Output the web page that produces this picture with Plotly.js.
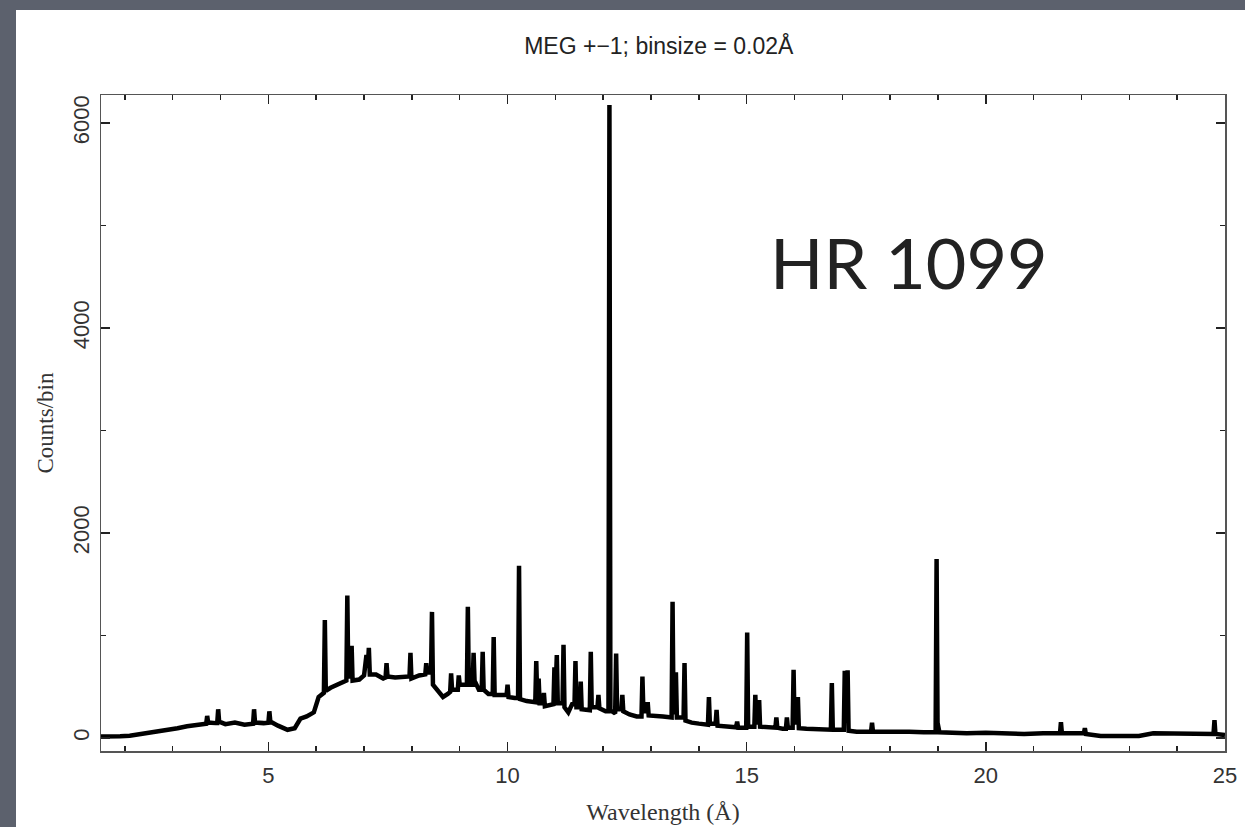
<!DOCTYPE html>
<html>
<head>
<meta charset="utf-8">
<script src="https://cdn.plot.ly/plotly-3.0.1.min.js"></script>
<style>
  html, body { margin:0; padding:0; width:1245px; height:827px; overflow:hidden; background:#5c616d; }
  #chart { position:absolute; left:16px; top:10px; width:1229px; height:817px; background:#ffffff; }
</style>
</head>
<body>
<div id="chart"></div>
<script>
// Spectrum: wavelength (Å) and counts per 0.02 Å bin
const wavelength = [
  1.50, 1.70, 1.90, 2.10, 2.30, 2.50, 2.70, 2.90, 3.10, 3.30, 3.50, 3.70, 3.72, 3.74, 3.90, 3.93, 3.95, 3.97,
  4.10, 4.30, 4.50, 4.68, 4.70, 4.72, 4.90, 5.00, 5.02, 5.04, 5.20, 5.40, 5.55, 5.67, 5.80, 5.95, 6.05,
  6.16, 6.18, 6.20, 6.30, 6.45, 6.63, 6.65, 6.67, 6.72, 6.74, 6.76, 6.90, 7.00, 7.05, 7.08, 7.10, 7.12,
  7.25, 7.40, 7.45, 7.47, 7.49, 7.65, 7.80, 7.95, 7.97, 7.99, 8.15, 8.28, 8.30, 8.32, 8.40, 8.42, 8.44,
  8.55, 8.65, 8.75, 8.80, 8.82, 8.84, 8.96, 8.98, 9.00, 9.15, 9.17, 9.19, 9.27, 9.29, 9.31, 9.40, 9.46,
  9.48, 9.50, 9.60, 9.69, 9.71, 9.73, 9.85, 9.98, 10.00, 10.02, 10.15, 10.22, 10.24, 10.26, 10.40,
  10.55, 10.58, 10.60, 10.62, 10.65, 10.67, 10.74, 10.76, 10.78, 10.90, 10.96, 10.98, 11.00, 11.03,
  11.05, 11.15, 11.17, 11.19, 11.27, 11.35, 11.40, 11.42, 11.44, 11.51, 11.53, 11.55, 11.65, 11.72,
  11.74, 11.76, 11.88, 11.90, 11.92, 12.05, 12.11, 12.13, 12.15, 12.22, 12.25, 12.27, 12.29, 12.38,
  12.40, 12.42, 12.55, 12.70, 12.80, 12.82, 12.84, 12.91, 12.93, 12.95, 13.10, 13.25, 13.43, 13.45,
  13.47, 13.50, 13.52, 13.54, 13.68, 13.70, 13.72, 13.85, 14.00, 14.10, 14.19, 14.21, 14.23, 14.35,
  14.37, 14.39, 14.55, 14.70, 14.78, 14.80, 14.82, 14.99, 15.01, 15.03, 15.16, 15.18, 15.20, 15.24,
  15.26, 15.28, 15.45, 15.60, 15.62, 15.64, 15.75, 15.82, 15.84, 15.86, 15.96, 15.98, 16.00, 16.05,
  16.07, 16.09, 16.25, 16.45, 16.65, 16.76, 16.78, 16.80, 16.95, 17.03, 17.05, 17.07, 17.09, 17.11,
  17.13, 17.30, 17.45, 17.60, 17.62, 17.64, 17.85, 18.10, 18.40, 18.70, 18.95, 18.97, 18.99, 19.03,
  19.30, 19.60, 20.00, 20.40, 20.80, 21.20, 21.55, 21.57, 21.59, 21.80, 22.05, 22.07, 22.09, 22.40,
  22.80, 23.20, 23.50, 23.90, 24.30, 24.60, 24.76, 24.78, 24.80, 25.00
];
const counts = [
  15, 12, 18, 22, 35, 50, 68, 80, 95, 115, 130, 140, 215, 150, 145, 145, 280, 160,
  135, 150, 130, 140, 280, 150, 145, 150, 260, 160, 120, 80, 95, 190, 210, 250, 400,
  440, 1150, 460, 490, 520, 560, 1390, 600, 600, 900, 560, 570, 610, 810, 700, 880, 620,
  620, 580, 590, 730, 600, 590, 600, 600, 830, 580, 610, 620, 730, 640, 640, 1230, 520,
  450, 400, 430, 450, 630, 470, 470, 610, 520, 520, 1280, 520, 520, 830, 560, 470, 470,
  840, 470, 430, 430, 985, 420, 420, 420, 520, 400, 390, 390, 1680, 380, 360,
  350, 350, 750, 400, 580, 340, 340, 440, 310, 330, 330, 690, 400, 810,
  340, 340, 910, 300, 250, 330, 330, 750, 300, 300, 550, 280, 270, 270,
  840, 300, 300, 420, 290, 260, 260, 6175, 270, 240, 240, 825, 280, 280,
  420, 260, 230, 210, 210, 600, 260, 260, 350, 220, 210, 210, 200, 1330,
  250, 250, 640, 200, 200, 730, 170, 150, 140, 130, 130, 400, 140, 140,
  275, 120, 110, 105, 105, 160, 100, 100, 1030, 110, 110, 420, 150, 150,
  370, 110, 110, 100, 200, 100, 90, 90, 200, 100, 100, 665, 150, 150,
  400, 95, 90, 85, 80, 80, 535, 80, 80, 80, 655, 150, 150, 660,
  70, 60, 60, 60, 150, 60, 60, 55, 60, 55, 55, 1745, 150, 55,
  50, 45, 50, 40, 40, 45, 45, 155, 45, 45, 45, 95, 40, 20,
  15, 20, 45, 40, 45, 40, 40, 175, 40, 30
];
const xTickVals = [5, 10, 15, 20, 25];
const yTickVals = [0, 2000, 4000, 6000];
const titleText = 'MEG +\u22121; binsize = 0.02\u00C5';
const xTitle = 'Wavelength (\u00C5)';
const yTitle = 'Counts/bin';
const starName = 'HR 1099';

const axisCommon = {
  showgrid: false, zeroline: false, showline: true, linecolor: '#555', linewidth: 1.5,
  mirror: 'ticks', ticks: 'inside', tickcolor: '#222', tickwidth: 1.5, ticklen: 9,
  tickfont: { family: 'Liberation Sans, Arial, sans-serif', size: 22, color: '#333' }
};

const layout = {
  width: 1229, height: 817,
  paper_bgcolor: 'rgba(0,0,0,0)', plot_bgcolor: '#ffffff',
  margin: { l: 85, r: 20, t: 85, b: 76 },
  showlegend: false,
  title: { text: titleText, x: 0.523, xanchor: 'center', y: 1 - 36/817, yanchor: 'middle', yref: 'container',
           font: { family: 'Liberation Sans, Arial, sans-serif', size: 23, color: '#222' } },
  xaxis: Object.assign({}, axisCommon, {
    range: [1.5, 25], tickvals: xTickVals,
    minor: { dtick: 1, tick0: 0, ticks: 'inside', ticklen: 5, tickcolor: '#222', tickwidth: 1.5 },
    ticklabelstandoff: 4,
    title: { text: xTitle, standoff: 16, font: { family: 'Liberation Serif, Times New Roman, serif', size: 24, color: '#333' } }
  }),
  yaxis: Object.assign({}, axisCommon, {
    range: [-127, 6273], tickvals: yTickVals, tickangle: -90,
    minor: { dtick: 1000, tick0: 0, ticks: 'inside', ticklen: 5, tickcolor: '#222', tickwidth: 1.5 },
    ticklabelstandoff: 2,
    title: { text: yTitle, standoff: 8, font: { family: 'Liberation Serif, Times New Roman, serif', size: 23, color: '#333' } }
  }),
  annotations: [{
    text: starName, xref: 'paper', yref: 'paper', x: 0.719, y: 0.745,
    xanchor: 'center', yanchor: 'middle', showarrow: false,
    font: { family: 'Lato, Noto Sans, sans-serif', size: 70, color: '#222' }
  }]
};

const trace = {
  x: wavelength, y: counts, type: 'scatter', mode: 'lines',
  line: { color: '#000000', width: 4.5, shape: 'linear' },
  hoverinfo: 'skip'
};

Plotly.newPlot('chart', [trace], layout, { displayModeBar: false, staticPlot: true });
</script>
</body>
</html>
